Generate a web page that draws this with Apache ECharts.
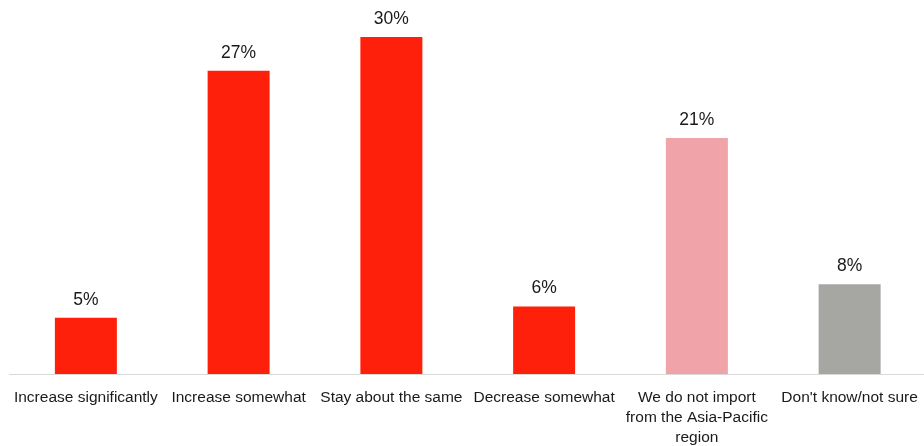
<!DOCTYPE html>
<html><head><meta charset="utf-8">
<script src="https://cdn.jsdelivr.net/npm/echarts@6/dist/echarts.min.js"></script>
<style>html,body{margin:0;padding:0;background:#fff}#c{width:924px;height:446px}</style>
</head><body><div id="c"></div>
<script>
const categories = ["Increase significantly","Increase somewhat","Stay about the same","Decrease somewhat","We do not import\nfrom the Asia-Pacific\nregion","Don't know/not sure"];
const values = [5, 27, 30, 6, 21, 8];
const colors = ["#FF200C","#FF200C","#FF200C","#FF200C","#F0A3A8","#A6A6A3"];
const chart = echarts.init(document.getElementById('c'));
chart.setOption({
  animation:false,
  grid:{left:9.5,right:-2,top:37,bottom:72,containLabel:false,outerBoundsMode:'none'},
  xAxis:{type:'category',data:categories,
    axisLine:{lineStyle:{color:'#D9D9D9',width:1}},axisTick:{show:false},
    axisLabel:{interval:0,color:'#1a1a1a',fontFamily:'Liberation Sans Narrow, Liberation Sans, sans-serif',fontSize:15.5,lineHeight:20,margin:14}},
  yAxis:{type:'value',min:0,max:30,show:false,splitLine:{show:false}},
  series:[{type:'bar',barWidth:62,
    data:values.map((v,i)=>({value:v,itemStyle:{color:colors[i]}})),
    label:{show:true,position:'top',distance:9,formatter:'{c}%',color:'#1a1a1a',fontFamily:'Liberation Sans, sans-serif',fontSize:17.5}}]
});
</script></body></html>
